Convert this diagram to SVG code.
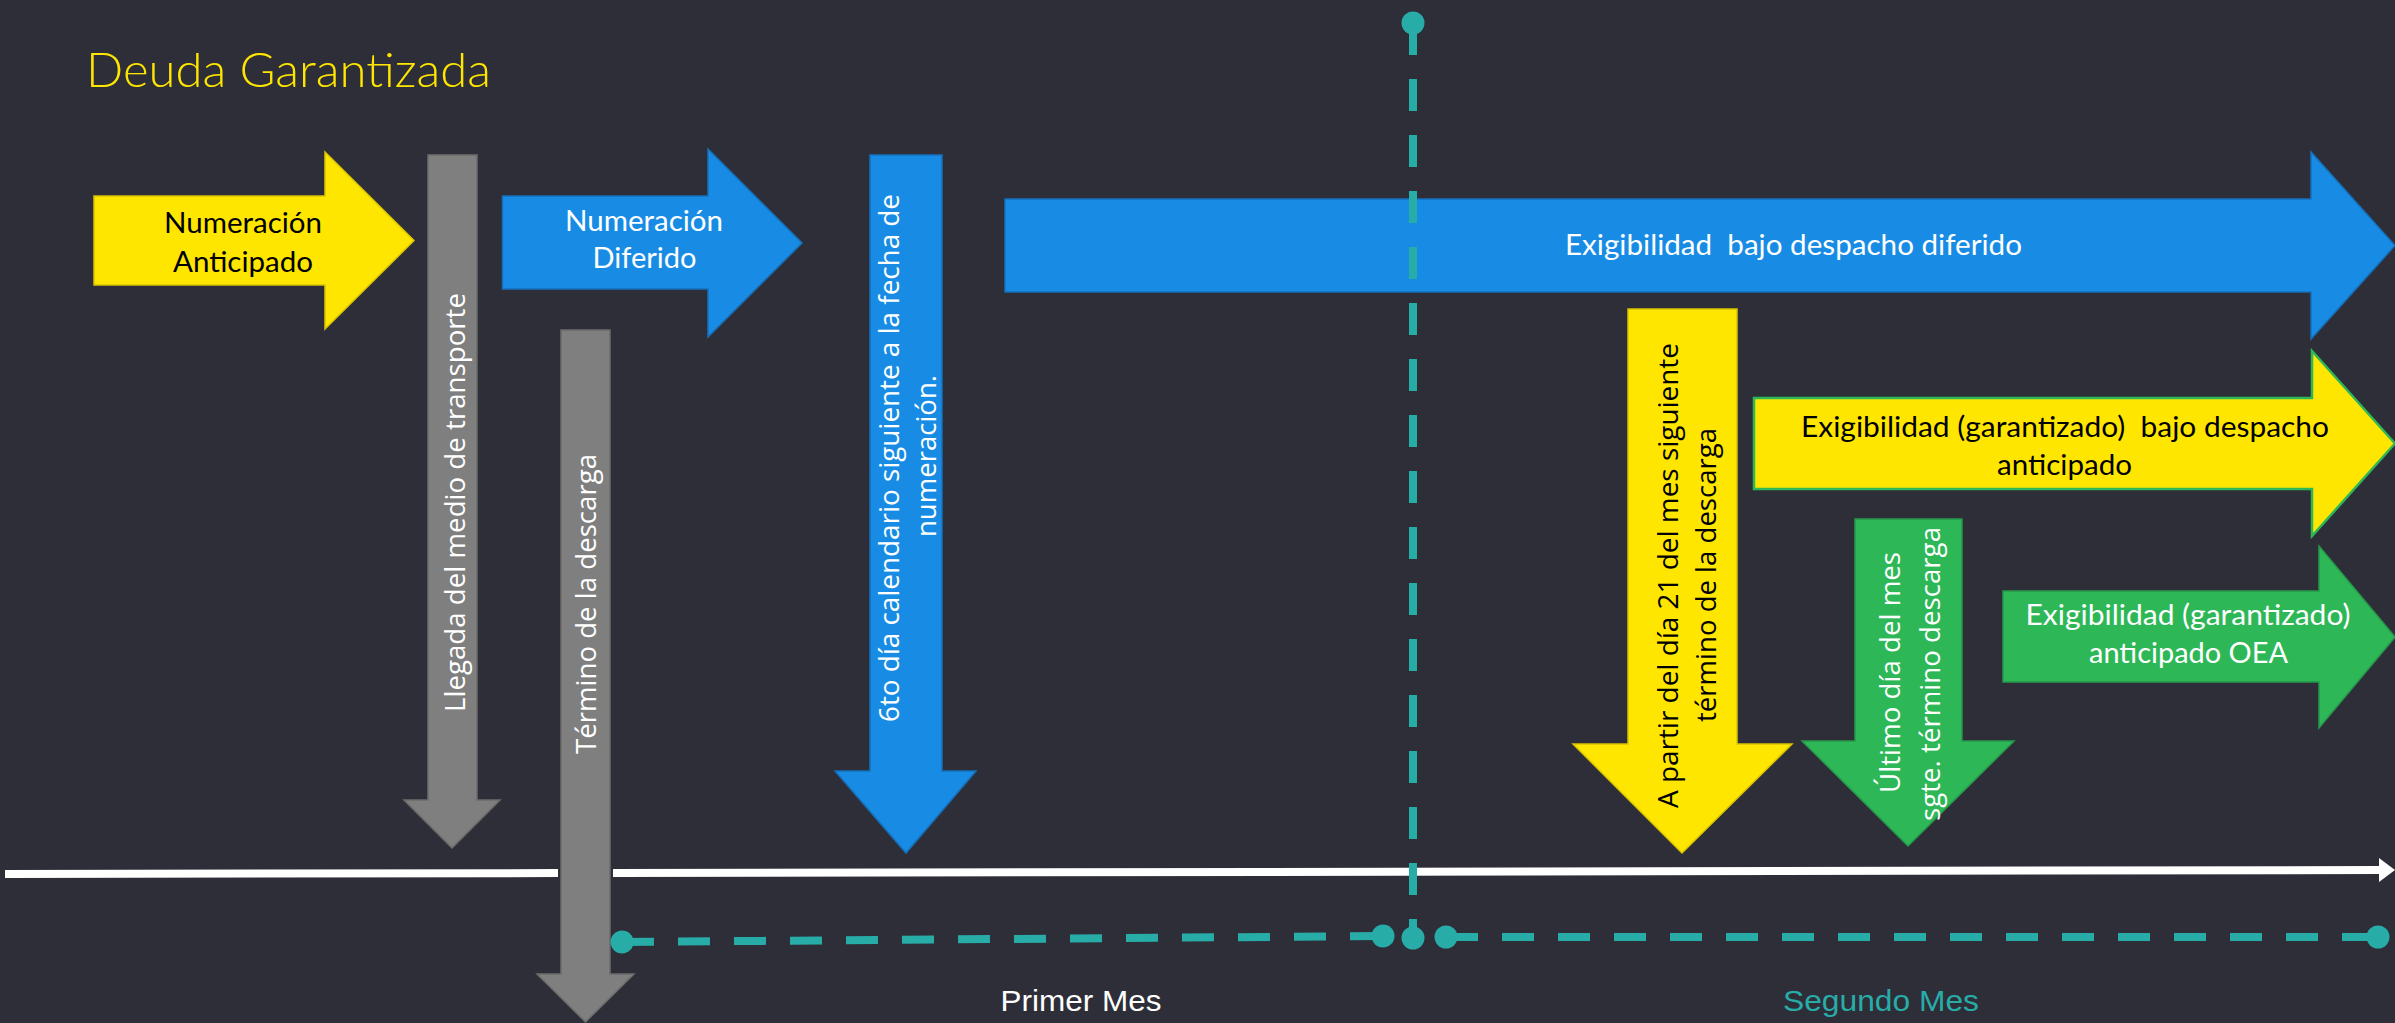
<svg xmlns="http://www.w3.org/2000/svg" width="2395" height="1023" viewBox="0 0 2395 1023">
  <defs>
    <style>
      .yellow { fill: #FFE600; stroke: #D9C400; stroke-width: 1.5; }
      .yellow-g { fill: #FFE600; stroke: #2DB757; stroke-width: 2.5; }
      .blue { fill: #188CE5; stroke: #1470BB; stroke-width: 1.5; }
      .green { fill: #2DB757; stroke: #25994A; stroke-width: 1.5; }
      .grey { fill: #7F7F7F; stroke: #6C6C6C; stroke-width: 1.5; }
      .lbl { font-family: Lato, "Open Sans", "Liberation Sans", sans-serif; font-size: 29px; text-anchor: middle; }
      .vlbl { font-family: "Open Sans", "Noto Sans", "Liberation Sans", sans-serif; font-size: 27px; text-anchor: middle; }
      .dark { fill: #000000; }
      .light { fill: #FFFFFF; }
      .teal-line { fill: none; stroke: #28ACA8; stroke-width: 8; stroke-dasharray: 32 24; marker-start: url(#dot); marker-end: url(#dot); }
      .timeline { fill: none; stroke: #FFFFFF; stroke-width: 8; marker-end: url(#head); }
      .month { font-family: "Liberation Sans", Arial, sans-serif; font-size: 30px; text-anchor: middle; }
    </style>
    <marker id="dot" viewBox="-12 -12 24 24" markerWidth="24" markerHeight="24" markerUnits="userSpaceOnUse" refX="0" refY="0" orient="auto">
      <circle cx="0" cy="0" r="11.5" fill="#28ACA8"/>
    </marker>
    <marker id="head" viewBox="0 0 16 24" markerWidth="16" markerHeight="24" markerUnits="userSpaceOnUse" refX="2" refY="12" orient="auto">
      <polygon points="0,0 16,12 0,24" fill="#FFFFFF"/>
    </marker>
  </defs>

  <rect x="0" y="0" width="2395" height="1023" fill="#2E2E38"/>

  <text id="title" x="86" y="87" font-family="Lato, 'Open Sans', sans-serif" font-weight="300" font-size="48" fill="#FFE600" textLength="405" lengthAdjust="spacingAndGlyphs">Deuda Garantizada</text>

  <g id="numeracion-anticipado">
    <polygon class="yellow" points="94,196 325,196 325,152 414,240.5 325,329 325,285 94,285"/>
    <text class="lbl dark" x="243" y="233" textLength="158" lengthAdjust="spacingAndGlyphs">Numeración</text>
    <text class="lbl dark" x="243" y="272" textLength="140" lengthAdjust="spacingAndGlyphs">Anticipado</text>
  </g>

  <g id="llegada">
    <polygon class="grey" points="428,155 477,155 477,800 500,800 452,848 404,800 428,800"/>
    <text class="vlbl light" transform="translate(465,502.5) rotate(-90)" textLength="419" lengthAdjust="spacingAndGlyphs">Llegada del medio de transporte</text>
  </g>

  <g id="numeracion-diferido">
    <polygon class="blue" points="502.5,196 708,196 708,149 802,243 708,337 708,289 502.5,289"/>
    <text class="lbl light" x="644" y="231" textLength="158" lengthAdjust="spacingAndGlyphs">Numeración</text>
    <text class="lbl light" x="644.5" y="268" textLength="104" lengthAdjust="spacingAndGlyphs">Diferido</text>
  </g>

  <g id="connectors-timeline">
    <path class="timeline" d="M5,874 L558,873.1 M613,873 L2381,870"/>
  </g>

  <g id="termino-descarga">
    <polygon class="grey" points="561,330 610,330 610,974 634,974 585.5,1022 537,974 561,974"/>
    <text class="vlbl light" transform="translate(596,604) rotate(-90)" textLength="300" lengthAdjust="spacingAndGlyphs">Término de la descarga</text>
  </g>

  <g id="sexto-dia">
    <polygon class="blue" points="870,155 942,155 942,771 976,771 906,853 835,771 870,771"/>
    <text class="vlbl light" transform="translate(899,458) rotate(-90)" textLength="528" lengthAdjust="spacingAndGlyphs">6to día calendario siguiente a la fecha de</text>
    <text class="vlbl light" transform="translate(936,456) rotate(-90)" textLength="162" lengthAdjust="spacingAndGlyphs">numeración.</text>
  </g>

  <g id="exigibilidad-diferido">
    <polygon class="blue" points="1005,199 2311,199 2311,152 2395,245.5 2311,339 2311,292 1005,292"/>
    <text class="lbl light" x="1565" y="255" style="text-anchor:start" xml:space="preserve" textLength="457" lengthAdjust="spacingAndGlyphs">Exigibilidad  bajo despacho diferido</text>
  </g>

  <g id="dia-21">
    <polygon class="yellow" points="1628,309 1737,309 1737,744 1792,744 1682,853 1573,744 1628,744"/>
    <text class="vlbl dark" transform="translate(1678,575.5) rotate(-90)" textLength="465" lengthAdjust="spacingAndGlyphs">A partir del día 21 del mes siguiente</text>
    <text class="vlbl dark" transform="translate(1716,575) rotate(-90)" textLength="294" lengthAdjust="spacingAndGlyphs">término de la descarga</text>
  </g>

  <g id="exigibilidad-anticipado">
    <polygon class="yellow-g" points="1754,398 2312,398 2312,351 2395,443.5 2312,536 2312,489 1754,489"/>
    <text class="lbl dark" x="1801" y="437" style="text-anchor:start" xml:space="preserve" textLength="528" lengthAdjust="spacingAndGlyphs">Exigibilidad (garantizado)  bajo despacho</text>
    <text class="lbl dark" x="2064.5" y="475" textLength="135" lengthAdjust="spacingAndGlyphs">anticipado</text>
  </g>

  <g id="ultimo-dia">
    <polygon class="green" points="1855,519 1962,519 1962,741 2014,741 1908,846 1802,741 1855,741"/>
    <text class="vlbl light" transform="translate(1900,672.5) rotate(-90)" textLength="241" lengthAdjust="spacingAndGlyphs">Último día del mes</text>
    <text class="vlbl light" transform="translate(1940,674) rotate(-90)" textLength="294" lengthAdjust="spacingAndGlyphs">sgte. término descarga</text>
  </g>

  <g id="exigibilidad-oea">
    <polygon class="green" points="2003,591 2319,591 2319,546 2395,637 2319,728 2319,682 2003,682"/>
    <text class="lbl light" x="2188" y="625" textLength="325" lengthAdjust="spacingAndGlyphs">Exigibilidad (garantizado)</text>
    <text class="lbl light" x="2188.5" y="663" textLength="199" lengthAdjust="spacingAndGlyphs">anticipado OEA</text>
  </g>

  <g id="connectors">
    <line class="teal-line" x1="1413" y1="23" x2="1413" y2="938"/>
    <line class="teal-line" x1="622" y1="942" x2="1383" y2="936"/>
    <line class="teal-line" x1="1446" y1="937" x2="2378" y2="937"/>
  </g>

  <g id="labels">
    <text class="month light" x="1081" y="1011" textLength="161" lengthAdjust="spacingAndGlyphs">Primer Mes</text>
    <text class="month" x="1881" y="1011" fill="#28ACA8" textLength="196" lengthAdjust="spacingAndGlyphs">Segundo Mes</text>
  </g>
</svg>
